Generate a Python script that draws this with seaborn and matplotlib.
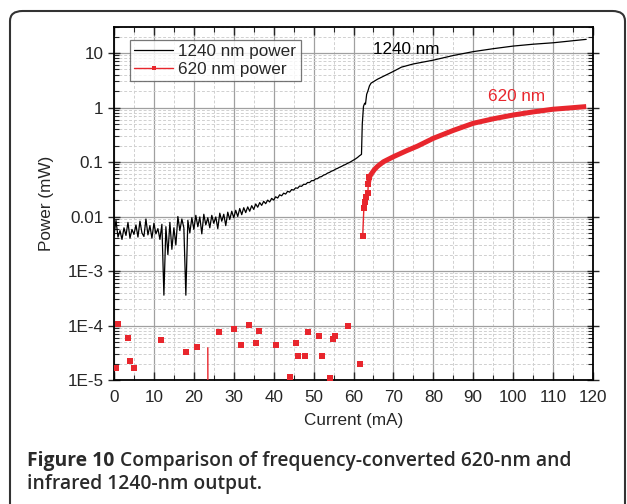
import numpy as np
import pandas as pd
import matplotlib
matplotlib.use("Agg")
import matplotlib.pyplot as plt
import seaborn as sns
from matplotlib.lines import Line2D
from matplotlib.patches import FancyBboxPatch
from matplotlib.ticker import FixedLocator, LogLocator, MultipleLocator, NullFormatter

# 1240 nm power (mW) vs current (mA)
ir_current = [
    0.0, 0.5, 1.0, 1.5, 2.0, 2.5, 3.0, 3.5, 4.0, 4.5, 5.0, 5.5, 6.0, 6.5, 7.0, 7.5,
    8.0, 8.5, 9.0, 9.5, 10.0, 10.5, 11.0, 11.5, 12.0, 12.5, 13.0, 13.5, 14.0, 14.5,
    15.0, 15.5, 16.0, 16.5, 17.0, 17.5, 18.0, 18.5, 19.0, 19.5, 20.0, 20.5, 21.0,
    21.5, 22.0, 22.5, 23.0, 23.5, 24.0, 24.5, 25.0, 25.5, 26.0, 26.5, 27.0, 27.5,
    28.0, 28.5, 29.0, 29.5, 30.0, 30.5, 31.0, 31.5, 32.0, 32.5, 33.0, 33.5, 34.0,
    34.5, 35.0, 35.5, 36.0, 36.5, 37.0, 37.5, 38.0, 38.5, 39.0, 39.5, 40.0, 40.5,
    41.0, 41.5, 42.0, 42.5, 43.0, 43.5, 44.0, 44.5, 45.0, 45.5, 46.0, 46.5, 47.0,
    47.5, 48.0, 48.5, 49.0, 49.5, 50.0, 50.5, 51.0, 51.5, 52.0, 52.5, 53.0, 53.5,
    54.0, 54.5, 55.0, 55.5, 56.0, 56.5, 57.0, 57.5, 58.0, 58.5, 59.0, 59.5, 60.0,
    60.5, 61.0, 61.5, 62.0, 62.2, 62.5, 62.8, 63.0, 63.3, 63.6, 64.0, 64.4, 66.0,
    68.0, 70.0, 72.0, 75.0, 80.0, 85.0, 90.0, 95.0, 100.0, 105.0, 110.0, 114.0, 118.3,
]
ir_power = [
    0.0045, 0.0085, 0.0042, 0.0055, 0.0038, 0.0062, 0.0045, 0.0078, 0.0040, 0.0058,
    0.0047, 0.0070, 0.0042, 0.0082, 0.0050, 0.0043, 0.0090, 0.0046, 0.0068, 0.0040,
    0.0075, 0.0048, 0.0060, 0.0038, 0.0072, 0.00036, 0.0065, 0.0020, 0.0078, 0.0025,
    0.0062, 0.0030, 0.0100, 0.0055, 0.0090, 0.0062, 0.00036, 0.0085, 0.0050, 0.0095,
    0.0058, 0.0105, 0.0065, 0.0098, 0.0048, 0.0110, 0.0070, 0.0095, 0.0062, 0.0105,
    0.0075, 0.0098, 0.0060, 0.0115, 0.0082, 0.0110, 0.0068, 0.0120, 0.0088, 0.0125,
    0.0095, 0.0130, 0.0100, 0.0140, 0.0108, 0.0145, 0.0118, 0.0150, 0.0125, 0.0158,
    0.0135, 0.0170, 0.0148, 0.0180, 0.0160, 0.0190, 0.0172, 0.0200, 0.0185, 0.0215,
    0.0200, 0.0230, 0.0218, 0.0250, 0.0240, 0.0268, 0.0258, 0.0290, 0.0280, 0.0312,
    0.0305, 0.0335, 0.0330, 0.0362, 0.0358, 0.0390, 0.0388, 0.0420, 0.0420, 0.0455,
    0.0455, 0.0490, 0.0495, 0.0530, 0.0540, 0.0575, 0.0590, 0.0625, 0.0645, 0.0680,
    0.0700, 0.0740, 0.0765, 0.0800, 0.0830, 0.0870, 0.0900, 0.0945, 0.0980, 0.1030,
    0.1080, 0.1140, 0.1210, 0.1300, 0.1380, 0.50, 1.05, 1.20, 1.15, 1.75, 2.0, 2.5,
    2.8, 3.3, 3.9, 4.6, 5.5, 6.3, 7.4, 9.0, 10.6, 12.0, 13.4, 14.5, 15.4, 16.5, 17.8,
]

# 620 nm noise floor points below threshold
red_noise_current = [
    0.4, 1.1, 3.5, 4.0, 4.9, 11.8, 18.0, 20.8, 26.2, 30.0, 31.8, 33.8, 35.6, 36.3,
    40.5, 44.0, 45.5, 46.1, 47.9, 48.6, 51.4, 52.0, 54.1, 54.8, 55.4, 58.6, 61.7,
]
red_noise_power = [
    1.68e-5, 1.08e-4, 5.9e-5, 2.26e-5, 1.66e-5, 5.5e-5, 3.3e-5, 4.1e-5, 7.6e-5,
    8.6e-5, 4.4e-5, 1.03e-4, 4.8e-5, 8.0e-5, 4.4e-5, 1.12e-5, 4.8e-5, 2.8e-5,
    2.8e-5, 7.7e-5, 6.4e-5, 2.8e-5, 1.1e-5, 5.6e-5, 6.4e-5, 1.0e-4, 2.0e-5,
]
# the one noise point whose line drops below the axis
red_drop_current = [23.5, 23.55]
red_drop_power = [3.9e-5, 1e-6]

# 620 nm power above threshold
red_current = [
    62.3, 62.6, 62.8, 63.1, 63.6, 63.7, 64.0, 64.3, 64.7, 65.2, 66.0, 67.5, 70.0,
    73.3, 76.0, 80.0, 85.0, 90.0, 95.0, 100.0, 105.0, 110.0, 114.0, 118.3,
]
red_power = [
    0.0043, 0.0145, 0.0187, 0.0228, 0.0274, 0.0394, 0.0524, 0.058, 0.064, 0.072,
    0.083, 0.101, 0.125, 0.161, 0.195, 0.272, 0.38, 0.513, 0.62, 0.728, 0.83, 0.93,
    0.98, 1.04,
]

y_ticks = [1e-5, 1e-4, 1e-3, 1e-2, 1e-1, 1, 10]
y_labels = ["1E-5", "1E-4", "1E-3", "0.01", "0.1", "1", "10"]

RED = "#e8262d"
FS = 12.3

sns.set_style("white")
plt.rcParams["font.family"] = ["Liberation Sans", "DejaVu Sans"]

fig = plt.figure(figsize=(6.27, 5.04), dpi=100)
ax = fig.add_axes([114 / 627, 1 - 380 / 504, 479 / 627, 353 / 504])

ir = pd.DataFrame({"current": ir_current, "power": ir_power})
red = pd.DataFrame({"current": red_current, "power": red_power})
red_start = red.iloc[:7]
red_rest = red.iloc[5:]
noise = pd.DataFrame({"current": red_noise_current, "power": red_noise_power})
drop = pd.DataFrame({"current": red_drop_current, "power": red_drop_power})

sns.lineplot(data=ir, x="current", y="power", ax=ax, color="black", lw=0.9,
             estimator=None, sort=False, zorder=3)
sns.lineplot(data=drop, x="current", y="power", ax=ax, color=RED, lw=1.0,
             estimator=None, sort=False, zorder=3)
# steep start: separate squares joined by a thin line
sns.lineplot(data=red_start, x="current", y="power", ax=ax, color=RED, lw=1.0,
             marker="s", markersize=4.2, markeredgewidth=0,
             estimator=None, sort=False, zorder=4)
# dense part: markers merge into a thick band
sns.lineplot(data=red_rest, x="current", y="power", ax=ax, color=RED, lw=3.6,
             estimator=None, sort=False, zorder=4, solid_capstyle="butt",
             solid_joinstyle="round")
sns.scatterplot(data=noise, x="current", y="power", ax=ax, color=RED,
                marker="s", s=20, linewidth=0, zorder=4)

ax.set_yscale("log")
ax.set_xlim(0, 120)
ax.set_ylim(1e-5, 30)

ax.xaxis.set_major_locator(MultipleLocator(10))
ax.xaxis.set_minor_locator(MultipleLocator(5))
ax.yaxis.set_major_locator(FixedLocator(y_ticks))
ax.set_yticklabels(y_labels)
ax.yaxis.set_minor_locator(LogLocator(base=10, subs=np.arange(2, 10)))
ax.yaxis.set_minor_formatter(NullFormatter())

ax.grid(which="major", color="#a0a0a0", lw=0.9, ls="-")
ax.grid(which="minor", color="#d0d0d0", lw=0.7, ls=(0, (3, 2)))
ax.set_axisbelow(True)

ax.tick_params(axis="x", which="both", direction="in", top=True, bottom=True,
               labelsize=FS, pad=7)
ax.tick_params(axis="x", which="major", length=6, width=1)
ax.tick_params(axis="x", which="minor", length=3.5, width=0.8)
ax.tick_params(axis="y", which="both", right=True, left=True, labelsize=FS)
ax.tick_params(axis="y", which="major", direction="inout", length=8, width=1)
ax.tick_params(axis="y", which="minor", direction="in", length=3.5, width=0.8)

for sp in ax.spines.values():
    sp.set_color("black")
    sp.set_linewidth(1.3)

ax.set_xlabel("Current (mA)", fontsize=FS, labelpad=6)
ax.set_ylabel("Power (mW)", fontsize=FS, labelpad=10)

ax.text(64.9, 11.8, "1240 nm", fontsize=FS, color="black", va="center", ha="left")
ax.text(93.7, 1.56, "620 nm", fontsize=FS, color=RED, va="center", ha="left")

handles = [
    Line2D([], [], color="black", lw=0.9),
    Line2D([], [], color=RED, lw=1.0, marker="s", markersize=3.5, markeredgewidth=0),
]
leg = ax.legend(handles, ["1240 nm power", "620 nm power"], loc="upper left",
                bbox_to_anchor=(0.033, 0.963), fontsize=FS, fancybox=False,
                frameon=True, borderpad=0.25, handlelength=2.3, handletextpad=0.3,
                labelspacing=0.15, borderaxespad=0)
leg.get_frame().set_edgecolor("#555555")
leg.get_frame().set_linewidth(0.9)

# rounded frame around figure and caption
frame = FancyBboxPatch((10 / 627, -0.05), 615 / 627, 0.05 + 1 - 11 / 504,
                       boxstyle="round,pad=0,rounding_size=0.02",
                       transform=fig.transFigure, fill=False,
                       edgecolor="#333333", lw=1.5, clip_on=False)
fig.patches.append(frame)

cap_font = ["Open Sans", "DejaVu Sans"]
cap_fs = 13.9
t1 = fig.text(27 / 627, 1 - 461 / 504, "Figure 10", fontsize=cap_fs, fontweight="bold",
              color="#2a2a2a", family=cap_font, va="center", ha="left")
renderer = fig.canvas.get_renderer()
bb = t1.get_window_extent(renderer)
fig.text((bb.x1 + 6) / 627, 1 - 461 / 504, "Comparison of frequency-converted 620-nm and",
         fontsize=cap_fs, fontweight="semibold", color="#2a2a2a", family=cap_font,
         va="center", ha="left")
fig.text(27 / 627, 1 - 484 / 504, "infrared 1240-nm output.", fontsize=cap_fs,
         fontweight="semibold", color="#2a2a2a", family=cap_font,
         va="center", ha="left")

fig.savefig("out.png", dpi=100)
